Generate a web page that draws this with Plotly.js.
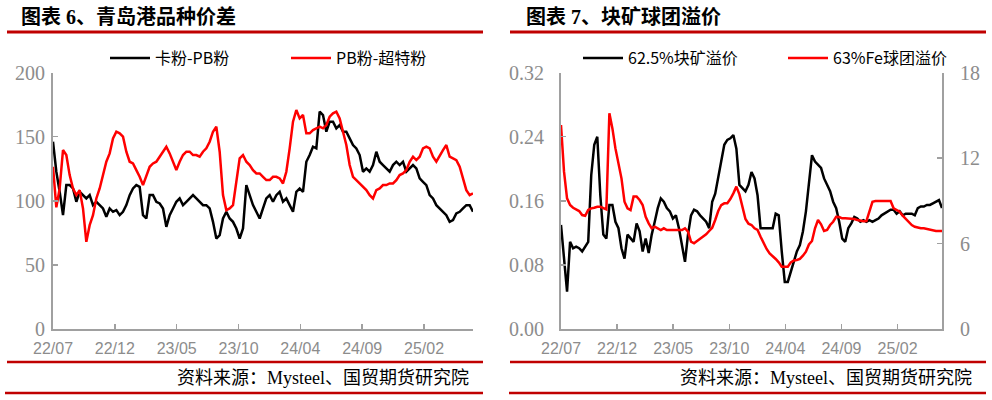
<!DOCTYPE html>
<html><head><meta charset="utf-8">
<script src="https://cdn.plot.ly/plotly-3.0.1.min.js"></script>
<style>html,body{margin:0;padding:0;background:#fff}#chart{width:992px;height:400px}</style>
</head><body><div id="chart"></div>
<script>
// ---- data ----
const startDate = '2022-07-01';
const stepDays = 8;
const tickLabels = ['22/07','22/12','23/05','23/10','24/04','24/09','25/02'];
const tickStepDays = 148.4;

// 卡粉-PB粉 (元/吨)
const karaPB = [146.1,122.7,107.1,88.9,112.3,112.3,109.7,99.3,107.1,104.5,
101.9,104.5,96.7,99.3,96.7,94.1,87.6,94.1,91.5,92.8,
88.9,91.5,96.7,104.5,109.7,112.3,111.0,88.9,86.3,104.5,
104.5,99.3,98.0,94.1,79.8,88.9,94.1,99.3,101.9,96.7,
99.3,101.9,104.5,101.9,99.3,96.7,96.7,94.1,83.7,70.7,
73.3,86.3,91.5,86.3,83.7,78.5,70.7,78.5,112.3,104.5,
96.7,91.5,86.3,94.1,101.9,104.5,99.3,104.5,107.1,99.3,
101.9,96.7,91.5,107.1,109.7,107.1,130.5,135.7,142.2,140.9,
169.5,166.9,153.9,161.7,161.7,156.5,159.1,153.9,153.9,148.7,
143.5,140.9,135.7,122.7,125.3,122.7,127.9,138.3,130.5,127.9,
125.3,122.7,127.9,130.5,127.9,130.5,122.7,125.3,127.9,125.3,
117.5,114.9,112.3,104.5,101.9,96.7,94.1,91.5,88.9,83.7,
85.0,90.2,91.5,94.1,96.7,96.7,91.5];

// PB粉-超特粉 (元/吨)
const pbSuper = [126.6,95.0,109.7,139.6,135.7,120.1,109.7,104.5,108.4,94.1,
68.1,81.1,88.9,101.9,109.7,120.1,130.5,137.0,148.7,153.9,
152.6,150.0,138.3,130.5,129.2,124.0,118.8,112.3,120.1,126.6,
129.2,130.5,134.4,138.3,142.2,137.0,130.5,124.0,130.5,135.7,
138.3,138.3,135.7,135.7,134.4,138.3,140.9,146.1,153.9,157.8,
138.3,104.5,92.8,94.1,96.7,114.9,133.1,135.7,130.5,127.9,
124.0,121.4,121.4,118.8,116.2,116.2,118.8,118.8,117.5,113.6,
122.7,140.9,161.7,170.8,164.3,166.9,152.6,152.6,155.2,156.5,
157.8,156.5,159.1,165.6,168.2,169.5,164.3,153.9,143.5,127.9,
118.8,116.2,113.6,111.0,108.4,104.5,101.9,108.4,109.7,112.3,
112.3,113.6,113.6,116.2,120.1,121.4,124.0,130.5,134.4,131.8,
134.4,140.9,142.2,140.9,134.4,130.5,135.7,139.6,143.5,134.4,
133.1,131.8,126.6,117.5,108.4,104.5,105.8];

// 62.5%块矿溢价 (左轴)
const lumpPremium = [0.130,0.084,0.047,0.109,0.101,0.103,0.101,0.097,0.103,0.109,
0.192,0.230,0.240,0.167,0.118,0.113,0.155,0.155,0.134,0.126,
0.101,0.088,0.118,0.113,0.109,0.132,0.122,0.097,0.113,0.095,
0.118,0.134,0.151,0.163,0.159,0.151,0.147,0.138,0.142,0.126,
0.105,0.084,0.118,0.142,0.149,0.147,0.142,0.138,0.134,0.126,
0.159,0.169,0.188,0.209,0.230,0.236,0.238,0.242,0.225,0.180,
0.176,0.172,0.180,0.196,0.188,0.167,0.126,0.126,0.126,0.126,
0.126,0.144,0.142,0.097,0.059,0.059,0.072,0.084,0.097,0.105,
0.122,0.147,0.180,0.217,0.209,0.205,0.201,0.188,0.180,0.172,
0.159,0.151,0.134,0.113,0.109,0.126,0.132,0.140,0.138,0.134,
0.136,0.134,0.136,0.134,0.136,0.138,0.142,0.144,0.147,0.149,
0.149,0.144,0.147,0.142,0.144,0.144,0.144,0.142,0.151,0.153,
0.153,0.155,0.155,0.157,0.159,0.161,0.151];

// 63%Fe球团溢价 (右轴)
const pelletPremium = [14.32,11.05,9.18,8.71,8.52,8.43,8.29,8.01,7.96,8.36,
8.48,8.52,8.59,8.59,8.52,8.41,15.14,14.08,12.68,11.63,
10.58,8.94,8.48,8.36,9.30,9.30,9.06,8.71,7.89,7.43,
7.08,7.19,7.08,6.96,7.08,6.96,6.96,6.96,6.96,6.96,
6.96,7.08,6.84,6.14,6.03,6.19,6.33,6.49,6.66,6.89,
7.12,7.66,8.29,8.71,8.83,8.83,9.13,9.53,10.00,9.46,
8.48,7.73,7.40,7.31,7.08,6.96,6.49,6.03,5.63,5.32,
5.14,4.93,4.69,4.39,4.39,4.39,4.69,4.83,4.86,4.93,
5.16,5.44,5.95,6.19,7.08,7.66,7.36,6.89,6.96,7.31,
7.54,7.89,7.87,7.78,7.78,7.78,7.78,7.73,7.66,7.61,
7.57,7.59,8.36,8.94,8.99,8.99,8.99,8.99,8.99,8.99,
8.48,8.36,8.24,7.96,7.73,7.50,7.31,7.19,7.12,7.08,
7.08,7.03,6.96,6.89,6.89,6.89,6.89];

// ---- build ----
const t0 = Date.parse(startDate + 'T00:00:00Z');
function dateAt(days){ return new Date(t0 + days*86400000).toISOString().replace('T',' ').slice(0,19); }
const dates = karaPB.map((_, i) => dateAt(i*stepDays));
const tickVals = tickLabels.map((_, k) => dateAt(k*tickStepDays));
const xRange = [dates[0], dates[dates.length-1]];

const GREY = '#a0a0a0';
const LBL = '#8c8c8c';
const DARKRED = '#c00000';
const serifCJK = 'Liberation Serif, Noto Sans CJK SC, serif';
const serif = 'Liberation Serif, Times New Roman, serif';
const sans = 'Liberation Sans, Arial, sans-serif';
const cjk = 'Noto Sans CJK SC, sans-serif';

const W = 992, H = 400;
const px = v => v / W;
const py = v => 1 - v / H;
const yDom = [py(329.3), py(72.5)];

function xAxis(dom, anchor){
  return {domain: dom, anchor: anchor, type: 'date', range: xRange,
    tickmode: 'array', tickvals: tickVals, ticktext: tickLabels,
    ticks: 'inside', ticklen: 5, tickwidth: 1.5, tickcolor: GREY,
    showline: true, linecolor: GREY, linewidth: 2, showgrid: false, zeroline: false,
    ticklabelstandoff: 3,
    tickfont: {family: sans, size: 16, color: LBL}};
}
function yAxis(range, dtick, extra){
  return Object.assign({domain: yDom, range: range, dtick: dtick, tick0: 0,
    ticks: 'inside', ticklen: 5, tickwidth: 1.5, tickcolor: GREY,
    showline: true, linecolor: GREY, linewidth: 2, showgrid: false, zeroline: false,
    tickfont: {family: serif, size: 20, color: LBL}}, extra);
}

const data = [
  {x: dates, y: karaPB, xaxis: 'x', yaxis: 'y', type: 'scatter', mode: 'lines',
   name: '卡粉-PB粉', legend: 'legend', line: {color: '#000000', width: 2.5}},
  {x: dates, y: pbSuper, xaxis: 'x', yaxis: 'y', type: 'scatter', mode: 'lines',
   name: 'PB粉-超特粉', legend: 'legend2', line: {color: '#ff0000', width: 2.5}},
  {x: dates, y: lumpPremium, xaxis: 'x2', yaxis: 'y2', type: 'scatter', mode: 'lines',
   name: '62.5%块矿溢价', legend: 'legend3', line: {color: '#000000', width: 2.5}},
  {x: dates, y: pelletPremium, xaxis: 'x2', yaxis: 'y3', type: 'scatter', mode: 'lines',
   name: '63%Fe球团溢价', legend: 'legend4', line: {color: '#ff0000', width: 2.5}}
];

function leg(x){
  return {x: px(x), y: py(58), xanchor: 'left', yanchor: 'middle', orientation: 'h',
    bgcolor: 'rgba(0,0,0,0)', borderwidth: 0, itemwidth: 40,
    font: {family: cjk, size: 16, color: '#000'}};
}

const line = (x0, x1, y, w) => ({type: 'line', xref: 'paper', yref: 'paper',
  x0: px(x0), x1: px(x1), y0: py(y), y1: py(y), line: {color: DARKRED, width: w}});

const note = (text, x, y, anchor, size, bold) => ({
  text: bold ? '<b>' + text + '</b>' : text, xref: 'paper', yref: 'paper', x: px(x), y: py(y),
  xanchor: anchor, yanchor: 'middle', showarrow: false,
  font: {family: serifCJK, size: size, color: '#000'}});

const layout = {
  width: W, height: H, margin: {l: 0, r: 0, t: 0, b: 0},
  paper_bgcolor: '#fff', plot_bgcolor: '#fff', showlegend: true,
  xaxis: xAxis([px(53), px(473)], 'y'),
  yaxis: yAxis([0, 200], 50, {anchor: 'x', ticklabelstandoff: 2}),
  xaxis2: xAxis([px(561), px(942)], 'y2'),
  yaxis2: yAxis([0, 0.32], 0.08, {anchor: 'x2', tickformat: '.2f', ticklabelstandoff: 11}),
  yaxis3: yAxis([0, 18], 6, {anchor: 'x2', overlaying: 'y2', side: 'right', ticklabelstandoff: 12}),
  legend: leg(105), legend2: leg(286), legend3: leg(578), legend4: leg(783),
  shapes: [
    line(7, 483, 32, 3), line(510, 986, 32, 3),
    line(7, 483, 362, 2.5), line(510, 986, 362, 2.5),
    line(5, 483, 393, 2.5), line(509, 986, 393, 2.5)
  ],
  annotations: [
    note('图表 6、青岛港品种价差', 19, 17, 'left', 20, true),
    note('图表 7、块矿球团溢价', 524, 17, 'left', 20, true),
    note('资料来源：Mysteel、国贸期货研究院', 471, 378, 'right', 18, false),
    note('资料来源：Mysteel、国贸期货研究院', 974, 378, 'right', 18, false)
  ]
};

Plotly.newPlot('chart', data, layout, {displayModeBar: false, staticPlot: true});
</script>
</body></html>
